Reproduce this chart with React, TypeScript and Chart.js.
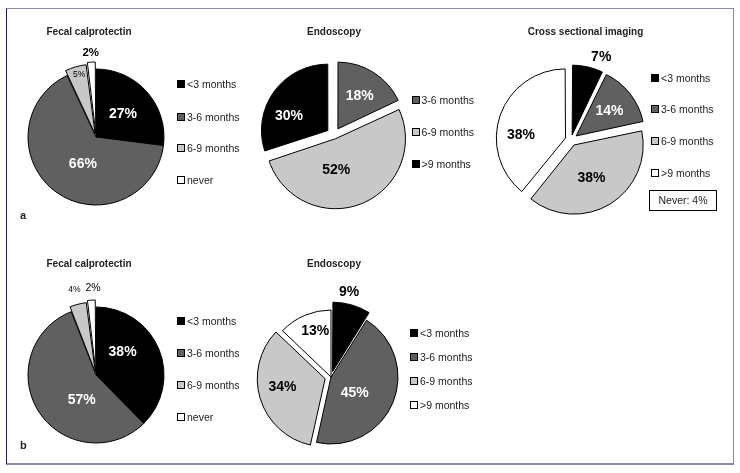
import React, { useEffect, useRef } from "react";
import { Chart, registerables } from "chart.js";
Chart.register(...registerables);

// ---------- data ----------
const fecalCategories = ["<3 months", "3-6 months", "6-9 months", "never"];
const fecalA = [27, 66, 5, 2];
const fecalB = [38, 57, 4, 2];

const endoCategoriesA = ["3-6 months", "6-9 months", ">9 months"];
const endoA = [18, 52, 30];

const endoCategoriesB = ["<3 months", "3-6 months", "6-9 months", ">9 months"];
const endoB = [9, 45, 34, 13];

const crossCategories = ["<3 months", "3-6 months", "6-9 months", ">9 months"];
const crossA = [7, 14, 38, 38];
const crossNever = 4;

const titles = ["Fecal calprotectin", "Endoscopy", "Cross sectional imaging"];

// ---------- styles ----------
const BLACK = "#000000";
const DARK = "#606060";
const LIGHT = "#c8c8c8";
const WHITE = "#ffffff";
const FONT = '"Liberation Sans", Arial, Helvetica, sans-serif';

type LabelSpec = { f: number; da: number; color: string; size: number; bold: boolean };

type PieSpec = {
  title: string;
  titleX: number;
  titleY: number;
  cx: number;
  cy: number;
  r: number;
  values: number[];
  categories: string[];
  colors: string[];
  explode: number[]; // desired pixel displacement of each slice
  legendX: number;
  legendY: number[];
  labels: LabelSpec[];
};

const W = (f: number, da: number, size = 14): LabelSpec => ({ f, da, color: WHITE, size, bold: true });
const K = (f: number, da: number, size = 14, bold = true): LabelSpec => ({ f, da, color: BLACK, size, bold });

const pies: PieSpec[] = [
  {
    title: titles[0], titleX: 89, titleY: 32, cx: 96, cy: 137, r: 68,
    values: fecalA, categories: fecalCategories,
    colors: [BLACK, DARK, LIGHT, WHITE], explode: [0, 0, 5, 7],
    legendX: 181, legendY: [84, 116.5, 147.5, 180],
    labels: [W(0.52, 1), W(0.44, -10), K(0.95, 1, 8.5, false), K(1.24, 0, 11.5, true)],
  },
  {
    title: titles[1], titleX: 334, titleY: 32, cx: 334, cy: 134.5, r: 66,
    values: endoA, categories: endoCategoriesA,
    colors: [DARK, LIGHT, BLACK], explode: [8, 8, 8],
    legendX: 415.5, legendY: [99.5, 131.5, 164],
    labels: [W(0.71, 1), K(0.53, 18), W(0.74, -13)],
  },
  {
    title: titles[2], titleX: 585.5, titleY: 32, cx: 571, cy: 139.5, r: 67,
    values: crossA, categories: crossCategories,
    colors: [BLACK, DARK, LIGHT, WHITE], explode: [8, 8, 8, 8],
    legendX: 655, legendY: [77.5, 109, 141, 172.5],
    labels: [K(1.32, 7), W(0.72, 1), K(0.64, 3), K(0.75, -13.5)],
  },
  {
    title: titles[0], titleX: 89, titleY: 263.5, cx: 96, cy: 375, r: 68,
    values: fecalB, categories: fecalCategories,
    colors: [BLACK, DARK, LIGHT, WHITE], explode: [0, 0, 5, 7],
    legendX: 181, legendY: [320.5, 352.5, 384.5, 416.5],
    labels: [W(0.52, -19), W(0.42, -27), K(1.29, 0, 8.5, false), K(1.28, 1.6, 10.5, false)],
  },
  {
    title: titles[1], titleX: 334, titleY: 263.5, cx: 331, cy: 376.5, r: 67,
    values: endoB, categories: endoCategoriesB,
    colors: [BLACK, DARK, LIGHT, WHITE], explode: [8, 0, 7, 0],
    legendX: 414, legendY: [332.5, 356.5, 380.5, 404.5],
    labels: [K(1.3, -4), W(0.43, 12), K(0.74, 5), K(0.72, 4)],
  },
];

// Chart.js translates an arc by offset/4 * (2 - sin(min(PI, circumference))).
function toOffsets(values: number[], explode: number[]): number[] {
  const total = values.reduce((a, b) => a + b, 0);
  return values.map((v, i) => {
    const c = (v / total) * Math.PI * 2;
    const fix = 1 - Math.sin(Math.min(Math.PI, c));
    return (4 * explode[i]) / (1 + fix);
  });
}

const CANVAS = 210;

function Pie({ spec }: { spec: PieSpec }) {
  const ref = useRef<HTMLCanvasElement | null>(null);
  useEffect(() => {
    if (!ref.current) return;
    const labelPlugin = {
      id: "pctLabels",
      afterDatasetsDraw(chart: any) {
        const meta = chart.getDatasetMeta(0);
        const ctx = chart.ctx as CanvasRenderingContext2D;
        const vals = chart.data.datasets[0].data as number[];
        meta.data.forEach((arc: any, i: number) => {
          const s = spec.labels[i];
          if (!s) return;
          const p = arc.getProps(["x", "y", "startAngle", "endAngle", "outerRadius"], true);
          const mid = (p.startAngle + p.endAngle) / 2 + (s.da * Math.PI) / 180;
          const d = p.outerRadius * s.f;
          ctx.save();
          ctx.font = `${s.bold ? "bold " : ""}${s.size}px ${FONT}`;
          ctx.fillStyle = s.color;
          ctx.textAlign = "center";
          ctx.textBaseline = "middle";
          ctx.fillText(`${vals[i]}%`, p.x + Math.cos(mid) * d, p.y + Math.sin(mid) * d);
          ctx.restore();
        });
      },
    };
    const chart = new Chart(ref.current, {
      type: "pie",
      data: {
        labels: spec.categories,
        datasets: [
          {
            data: spec.values,
            backgroundColor: spec.colors,
            borderColor: "#000000",
            borderWidth: 1,
            borderJoinStyle: "miter",
            offset: toOffsets(spec.values, spec.explode),
            radius: spec.r,
          } as any,
        ],
      },
      options: {
        responsive: false,
        maintainAspectRatio: false,
        animation: false,
        devicePixelRatio: 1,
        layout: { padding: 0 },
        plugins: { legend: { display: false }, tooltip: { enabled: false }, title: { display: false } },
        events: [],
      } as any,
      plugins: [labelPlugin as any],
    });
    return () => chart.destroy();
  }, [spec]);
  return (
    <canvas
      ref={ref}
      width={CANVAS}
      height={CANVAS}
      style={{
        position: "absolute",
        left: spec.cx - CANVAS / 2,
        top: spec.cy - CANVAS / 2,
        width: CANVAS,
        height: CANVAS,
      }}
    />
  );
}

function Legend({ spec }: { spec: PieSpec }) {
  return (
    <>
      {spec.categories.map((c, i) => (
        <div
          key={c + i}
          style={{
            position: "absolute",
            left: spec.legendX - 4,
            top: spec.legendY[i] - 7,
            height: 14,
            display: "flex",
            alignItems: "center",
            fontSize: 10.5,
            color: "#222",
            whiteSpace: "nowrap",
            fontFamily: FONT,
            zIndex: 2,
          }}
        >
          <span
            style={{
              display: "inline-block",
              width: 6,
              height: 6,
              border: "1px solid #000",
              background: spec.colors[i],
              marginRight: 2,
            }}
          />
          {c}
        </div>
      ))}
    </>
  );
}

export default function App() {
  useEffect(() => {
    document.body.style.margin = "0";
  }, []);
  return (
    <div
      style={{
        position: "absolute",
        left: 0,
        top: 0,
        width: 740,
        height: 473,
        background: "#fff",
        fontFamily: FONT,
        overflow: "hidden",
      }}
    >
      <div
        style={{
          position: "absolute",
          left: 6,
          top: 8,
          width: 726,
          height: 454,
          borderTop: "1px solid #8a8aa6",
          borderRight: "1px solid #8a8aa6",
          borderBottom: "2px solid #8a8aa6",
          borderLeft: "1px solid #1c1c58",
        }}
      />
      {pies.map((p, i) => (
        <div
          key={"t" + i}
          style={{
            position: "absolute",
            left: p.titleX - 80,
            width: 160,
            top: p.titleY - 7,
            height: 14,
            lineHeight: "14px",
            textAlign: "center",
            fontWeight: "bold",
            fontSize: 10,
            color: "#222",
            zIndex: 2,
          }}
        >
          {p.title}
        </div>
      ))}
      {pies.map((p, i) => (
        <Pie key={"p" + i} spec={p} />
      ))}
      {pies.map((p, i) => (
        <Legend key={"l" + i} spec={p} />
      ))}
      <div
        style={{
          position: "absolute",
          left: 649,
          top: 190,
          width: 66,
          height: 19,
          border: "1px solid #000",
          fontSize: 10.5,
          lineHeight: "19px",
          textAlign: "center",
          color: "#222",
          zIndex: 2,
        }}
      >
        {`Never: ${crossNever}%`}
      </div>
      <div style={{ position: "absolute", left: 20, top: 209, fontWeight: "bold", fontSize: 11, color: "#222" }}>a</div>
      <div style={{ position: "absolute", left: 20, top: 439, fontWeight: "bold", fontSize: 11, color: "#222" }}>b</div>
    </div>
  );
}
